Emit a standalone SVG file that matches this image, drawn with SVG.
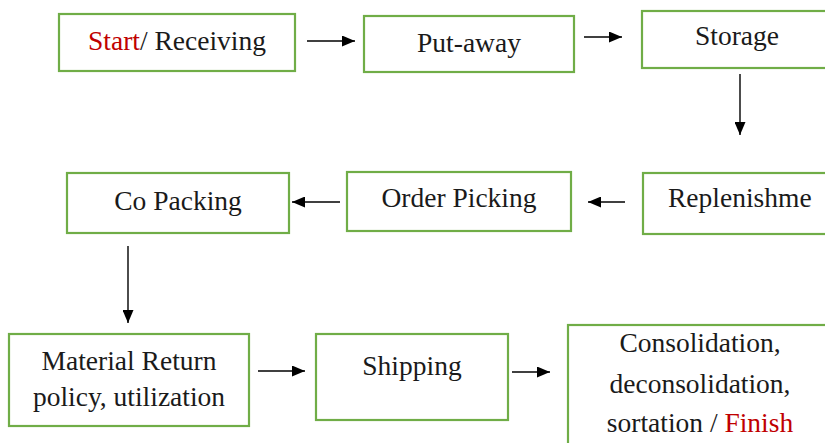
<svg xmlns="http://www.w3.org/2000/svg" width="825" height="443" viewBox="0 0 825 443">
<defs>
<style>
.box{fill:#fff;stroke:#70ad47;stroke-width:2.2}
.t{font-family:"Liberation Serif","Times New Roman",serif;font-size:27.5px;fill:#1a1a1a;text-anchor:middle}
.red{fill:#c00000}
.c{stroke:#000;stroke-width:1.4;fill:none;marker-end:url(#ah)}
</style>
<marker id="ah" viewBox="0 0 13 11" refX="13" refY="5.5" markerWidth="13" markerHeight="11" markerUnits="userSpaceOnUse" orient="auto">
<path d="M0,0 L13,5.5 L0,11 z" fill="#000"/>
</marker>
</defs>
<rect width="825" height="443" fill="#fff"/>
<g id="receiving"><rect class="box" x="59" y="14" width="236" height="57"/><text class="t" x="177" y="50"><tspan class="red">Start</tspan>/ Receiving</text></g>
<g id="putaway"><rect class="box" x="364" y="16" width="210" height="56"/><text class="t" x="469" y="52">Put-away</text></g>
<g id="storage"><rect class="box" x="642" y="11" width="190" height="57"/><text class="t" x="737" y="45">Storage</text></g>
<g id="replenishment"><rect class="box" x="643" y="173" width="190" height="61"/><text class="t" x="668" y="207" style="text-anchor:start">Replenishme</text></g>
<g id="orderpicking"><rect class="box" x="347" y="172" width="224" height="59"/><text class="t" x="459" y="207">Order Picking</text></g>
<g id="copacking"><rect class="box" x="67" y="173" width="222" height="60"/><text class="t" x="178" y="210">Co Packing</text></g>
<g id="materialreturn"><rect class="box" x="9" y="334" width="240" height="92"/><text class="t" x="129" y="370">Material Return</text><text class="t" x="129" y="406">policy, utilization</text></g>
<g id="shipping"><rect class="box" x="316" y="334" width="192" height="86"/><text class="t" x="412" y="375">Shipping</text></g>
<g id="consolidation"><rect class="box" x="568" y="325" width="264" height="130"/><text class="t" x="700" y="352">Consolidation,</text><text class="t" x="700" y="393">deconsolidation,</text><text class="t" x="700" y="432">sortation / <tspan class="red">Finish</tspan></text></g>
<g id="connectors">
<line class="c" x1="307" y1="41" x2="355" y2="41"/>
<line class="c" x1="584" y1="37" x2="622" y2="37"/>
<line class="c" x1="740" y1="74" x2="740" y2="135"/>
<line class="c" x1="625" y1="202" x2="588" y2="202"/>
<line class="c" x1="340" y1="202" x2="292" y2="202"/>
<line class="c" x1="128" y1="246" x2="128" y2="323"/>
<line class="c" x1="258" y1="371" x2="305" y2="371"/>
<line class="c" x1="512" y1="372" x2="550" y2="372"/>
</g>
</svg>
